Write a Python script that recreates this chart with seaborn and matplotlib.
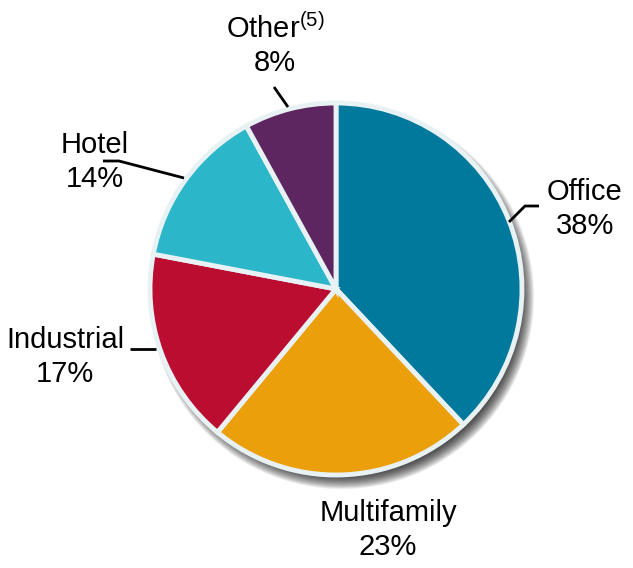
import matplotlib
matplotlib.use("Agg")
import matplotlib.pyplot as plt
import seaborn as sns
from matplotlib.patches import Circle

# data
sectors = ["Office", "Multifamily", "Industrial", "Hotel", "Other"]
shares = [38, 23, 17, 14, 8]
colors = ["#00799c", "#eba00b", "#ba0d30", "#2cb6c9", "#5e2661"]

sns.set_theme(style="white")
plt.rcParams['font.family'] = ['Liberation Sans', 'DejaVu Sans']
plt.rcParams['mathtext.fontset'] = 'custom'
plt.rcParams['mathtext.rm'] = 'Liberation Sans'

W, H = 633, 568
fig = plt.figure(figsize=(W / 100, H / 100), dpi=100)
ax = fig.add_axes([0, 0, 1, 1])
ax.set_xlim(0, W)
ax.set_ylim(0, H)
ax.set_aspect('equal')
ax.axis('off')


def py(y):
    # pixel row -> data y
    return H - y


cx, cy, r = 336, py(289), 186

# soft shadow to the lower right
for i in range(14):
    ax.add_patch(Circle((cx + 6, cy - 8), r + 6 - i, color='black',
                        alpha=0.08, lw=0, zorder=1))

ax.pie(shares, colors=colors, startangle=90, counterclock=False,
       center=(cx, cy), radius=r, frame=True,
       wedgeprops=dict(edgecolor='#e8f2f5', linewidth=3.5, zorder=2))
ax.set_xlim(0, W)
ax.set_ylim(0, H)
ax.axis('off')

fs = 21
labels = [
    ("Office\n38%", 585, 209),
    ("Multifamily\n23%", 388, 530),
    ("Industrial\n17%", 65, 357),
    ("Hotel\n14%", 95, 162),
    ("Other$^{\\mathregular{(5)}}$\n8%", 275, 45),
]
for txt, x, y in labels:
    ax.text(x, py(y), txt, ha='center', va='center', fontsize=fs,
            color='black', linespacing=1.25, zorder=5)

# leader lines
leaders = [
    [(509, 222), (525, 206), (539, 206)],
    [(103, 161), (119, 161), (184, 178)],
    [(130, 349), (156, 349)],
    [(274, 87), (288, 107)],
]
for pts in leaders:
    xs = [p[0] for p in pts]
    ys = [py(p[1]) for p in pts]
    ax.plot(xs, ys, color='black', lw=2, zorder=5, solid_capstyle='butt')

fig.savefig("out.png", dpi=100)
